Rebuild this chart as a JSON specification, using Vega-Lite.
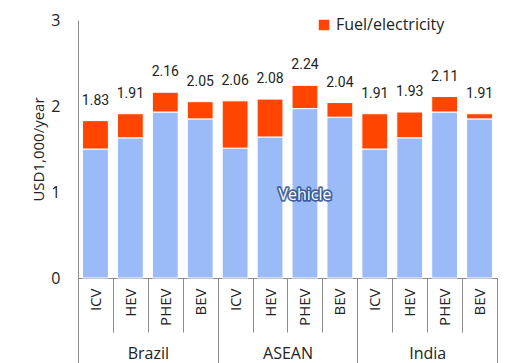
{
  "$schema": "https://vega.github.io/schema/vega-lite/v6.json",
  "width": 419,
  "height": 258,
  "autosize": {"type": "none"},
  "padding": {"left": 78, "top": 20, "right": 26, "bottom": 85},
  "config": {
    "view": {"stroke": null},
    "font": "Open Sans",
    "axis": {"labelFont": "Open Sans", "titleFont": "Open Sans", "labelColor": "#222", "titleColor": "#222"},
    "legend": {"labelFont": "Open Sans"}
  },
  "datasets": {
    "parts": [
      {"key": "Brazil ICV", "component": "Vehicle", "value": 1.50},
      {"key": "Brazil ICV", "component": "Fuel/electricity", "value": 0.33},
      {"key": "Brazil HEV", "component": "Vehicle", "value": 1.63},
      {"key": "Brazil HEV", "component": "Fuel/electricity", "value": 0.28},
      {"key": "Brazil PHEV", "component": "Vehicle", "value": 1.93},
      {"key": "Brazil PHEV", "component": "Fuel/electricity", "value": 0.23},
      {"key": "Brazil BEV", "component": "Vehicle", "value": 1.85},
      {"key": "Brazil BEV", "component": "Fuel/electricity", "value": 0.20},
      {"key": "ASEAN ICV", "component": "Vehicle", "value": 1.51},
      {"key": "ASEAN ICV", "component": "Fuel/electricity", "value": 0.55},
      {"key": "ASEAN HEV", "component": "Vehicle", "value": 1.64},
      {"key": "ASEAN HEV", "component": "Fuel/electricity", "value": 0.44},
      {"key": "ASEAN PHEV", "component": "Vehicle", "value": 1.97},
      {"key": "ASEAN PHEV", "component": "Fuel/electricity", "value": 0.27},
      {"key": "ASEAN BEV", "component": "Vehicle", "value": 1.87},
      {"key": "ASEAN BEV", "component": "Fuel/electricity", "value": 0.17},
      {"key": "India ICV", "component": "Vehicle", "value": 1.50},
      {"key": "India ICV", "component": "Fuel/electricity", "value": 0.41},
      {"key": "India HEV", "component": "Vehicle", "value": 1.63},
      {"key": "India HEV", "component": "Fuel/electricity", "value": 0.30},
      {"key": "India PHEV", "component": "Vehicle", "value": 1.93},
      {"key": "India PHEV", "component": "Fuel/electricity", "value": 0.18},
      {"key": "India BEV", "component": "Vehicle", "value": 1.85},
      {"key": "India BEV", "component": "Fuel/electricity", "value": 0.06}
    ],
    "totals": [
      {"key": "Brazil ICV", "region": "Brazil", "total": 1.83},
      {"key": "Brazil HEV", "region": "Brazil", "total": 1.91},
      {"key": "Brazil PHEV", "region": "Brazil", "total": 2.16},
      {"key": "Brazil BEV", "region": "Brazil", "total": 2.05},
      {"key": "ASEAN ICV", "region": "ASEAN", "total": 2.06},
      {"key": "ASEAN HEV", "region": "ASEAN", "total": 2.08},
      {"key": "ASEAN PHEV", "region": "ASEAN", "total": 2.24},
      {"key": "ASEAN BEV", "region": "ASEAN", "total": 2.04},
      {"key": "India ICV", "region": "India", "total": 1.91},
      {"key": "India HEV", "region": "India", "total": 1.93},
      {"key": "India PHEV", "region": "India", "total": 2.11},
      {"key": "India BEV", "region": "India", "total": 1.91}
    ]
  },
  "resolve": {"scale": {"x": "independent"}},
  "layer": [
    {
      "layer": [
        {
          "data": {"name": "parts"},
          "mark": {"type": "bar", "width": {"band": 0.74}, "stroke": "white", "strokeWidth": 1},
          "encoding": {
            "x": {
              "field": "key", "type": "nominal", "sort": null,
              "scale": {"paddingInner": 0, "paddingOuter": 0},
              "axis": {
                "title": null, "labelAngle": -90, "labelExpr": "split(datum.label, ' ')[1]",
                "tickBand": "extent", "tickSize": 54, "labelPadding": -44,
                "labelFontSize": 15, "domainColor": "#8c8c8c", "tickColor": "#8c8c8c",
                "labelOverlap": false
              }
            },
            "y": {
              "field": "value", "type": "quantitative", "stack": "zero",
              "scale": {"domain": [0, 3], "nice": false},
              "axis": {
                "title": "USD1,000/year", "values": [0, 1, 2, 3], "format": "d", "grid": false, "ticks": false,
                "domainColor": "#8c8c8c", "labelPadding": 18, "labelFontSize": 16,
                "titleFontSize": 15, "titleFontWeight": "normal", "titlePadding": 4
              }
            },
            "color": {
              "field": "component", "type": "nominal",
              "scale": {"domain": ["Vehicle", "Fuel/electricity"], "range": ["#9BBBF8", "#FF4500"]},
              "legend": {
                "title": null, "values": ["Fuel/electricity"], "orient": "none",
                "legendX": 238, "legendY": -3, "symbolType": "square", "symbolSize": 110,
                "symbolStrokeWidth": 0, "labelFontSize": 16, "labelColor": "#222"
              }
            },
            "order": {"field": "component", "sort": "descending"}
          }
        },
        {
          "data": {"name": "totals"},
          "mark": {"type": "text", "baseline": "middle", "dy": -20, "font": "Roboto", "fontSize": 14, "color": "#222"},
          "encoding": {
            "x": {"field": "key", "type": "nominal", "sort": null},
            "y": {"field": "total", "type": "quantitative"},
            "text": {"field": "total", "type": "quantitative", "format": ".2f"}
          }
        },
        {
          "data": {"values": [{"label": "Vehicle"}]},
          "mark": {"type": "text", "fontSize": 16, "stroke": "#2f4f8f", "strokeWidth": 3.5, "strokeOpacity": 0.85, "fill": "#2f4f8f", "baseline": "middle", "strokeJoin": "round"},
          "encoding": {
            "x": {"datum": "ASEAN PHEV"},
            "y": {"datum": 0.97},
            "text": {"field": "label"}
          }
        },
        {
          "data": {"values": [{"label": "Vehicle"}]},
          "mark": {"type": "text", "fontSize": 16, "fill": "white", "baseline": "middle"},
          "encoding": {
            "x": {"datum": "ASEAN PHEV"},
            "y": {"datum": 0.97},
            "text": {"field": "label"}
          }
        }
      ]
    },
    {
      "data": {"name": "totals"},
      "mark": {"type": "rule", "opacity": 0},
      "encoding": {
        "x": {
          "field": "region", "type": "nominal",
          "scale": {"domain": ["Brazil", "ASEAN", "India"], "paddingInner": 0, "paddingOuter": 0},
          "axis": {
            "title": null, "orient": "bottom", "domain": false, "tickBand": "extent",
            "tickSize": 85, "labelAngle": 0, "labelPadding": -18, "labelFontSize": 16,
            "tickColor": "#8c8c8c", "labelColor": "#222"
          }
        },
        "y": {"datum": 0}
      }
    }
  ]
}
